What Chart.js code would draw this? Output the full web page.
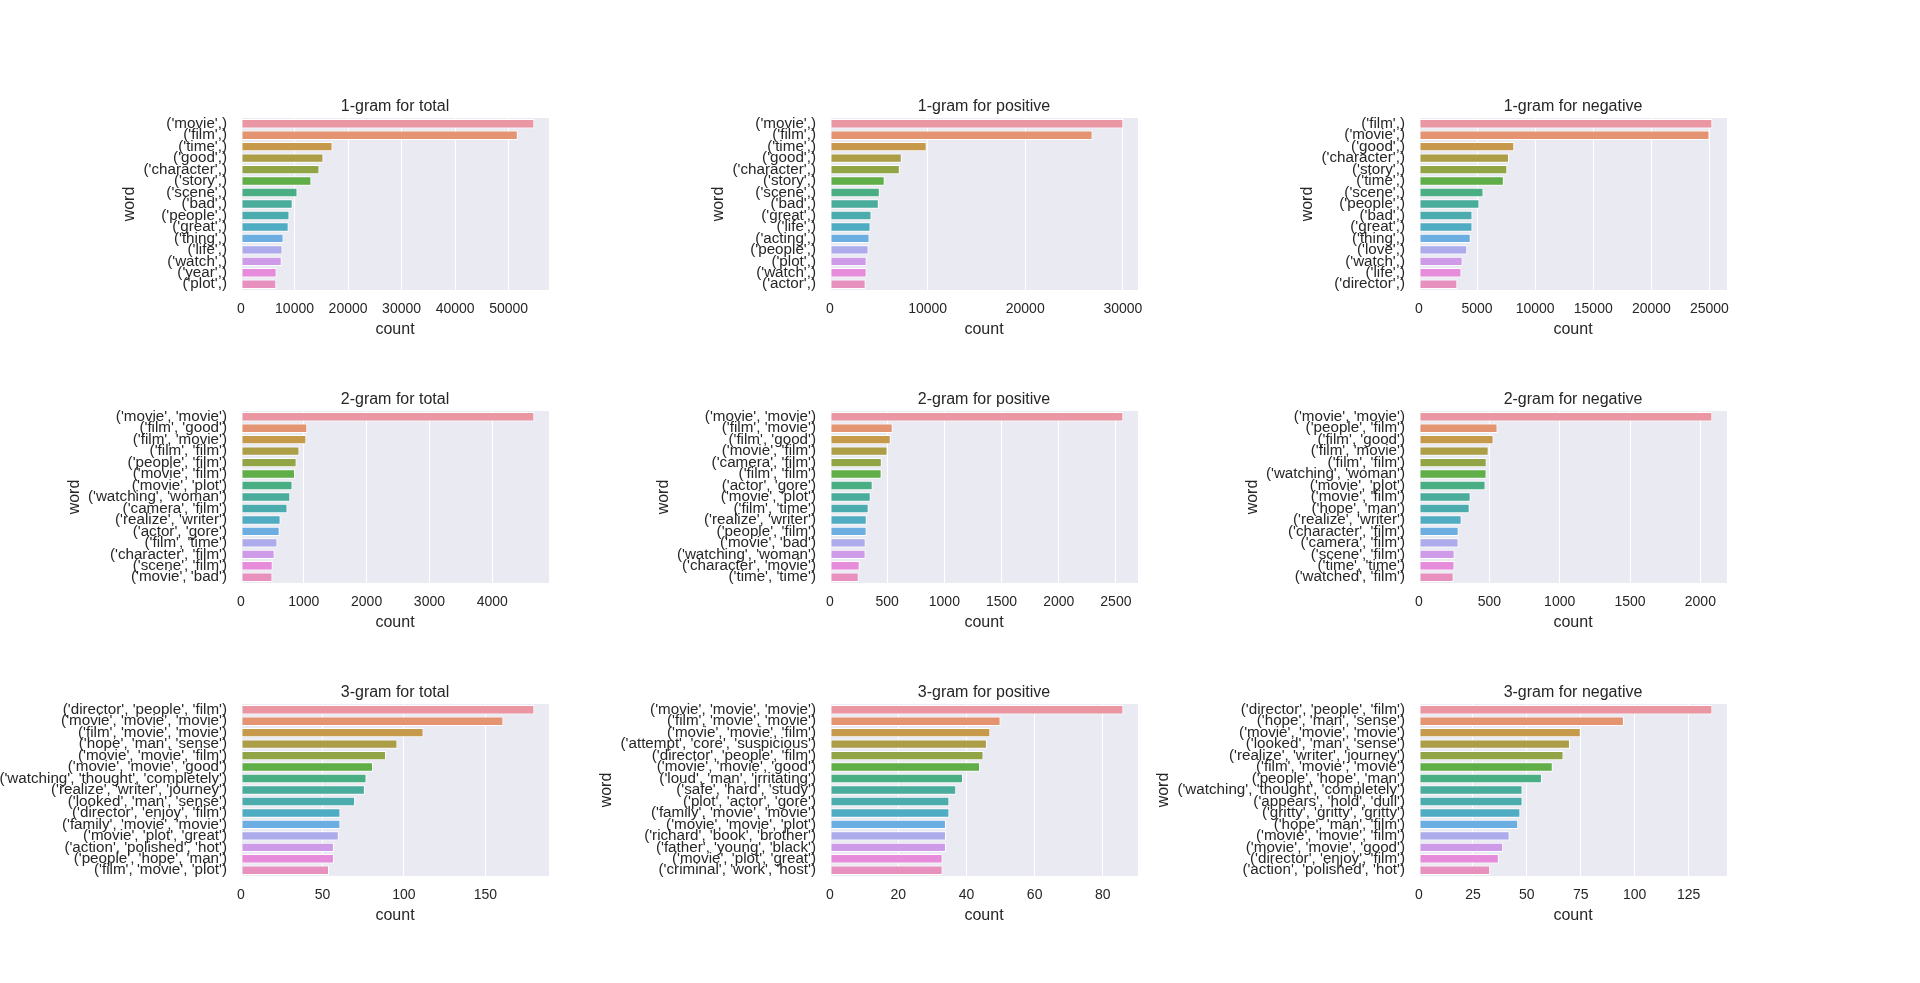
<!DOCTYPE html>
<html><head><meta charset="utf-8">
<script src="https://cdn.jsdelivr.net/npm/chart.js@4.4.1/dist/chart.umd.min.js"></script>
<style>
html,body{margin:0;padding:0;width:1920px;height:983px;overflow:hidden;background:#ffffff;}
canvas{position:absolute;}
</style></head><body>
<script>
// ---------------- DATA ----------------
const uniTotalWords = ["('movie',)","('film',)","('time',)","('good',)","('character',)","('story',)","('scene',)","('bad',)","('people',)","('great',)","('thing',)","('life',)","('watch',)","('year',)","('plot',)"];
const uniTotalCounts = [54800,51700,17100,15400,14650,13150,10550,9650,9050,8900,7950,7750,7600,6650,6600];
const uniTotalTicks = [0,10000,20000,30000,40000,50000];

const uniPosWords = ["('movie',)","('film',)","('time',)","('good',)","('character',)","('story',)","('scene',)","('bad',)","('great',)","('life',)","('acting',)","('people',)","('plot',)","('watch',)","('actor',)"];
const uniPosCounts = [30050,26900,9900,7350,7150,5600,5100,5000,4250,4150,4050,3950,3750,3750,3650];
const uniPosTicks = [0,10000,20000,30000];

const uniNegWords = ["('film',)","('movie',)","('good',)","('character',)","('story',)","('time',)","('scene',)","('people',)","('bad',)","('great',)","('thing',)","('love',)","('watch',)","('life',)","('director',)"];
const uniNegCounts = [25250,25000,8200,7750,7600,7300,5550,5200,4600,4600,4450,4150,3750,3650,3300];
const uniNegTicks = [0,5000,10000,15000,20000,25000];

const biTotalWords = ["('movie', 'movie')","('film', 'good')","('film', 'movie')","('film', 'film')","('people', 'film')","('movie', 'film')","('movie', 'plot')","('watching', 'woman')","('camera', 'film')","('realize', 'writer')","('actor', 'gore')","('film', 'time')","('character', 'film')","('scene', 'film')","('movie', 'bad')"];
const biTotalCounts = [4670,1055,1040,930,885,860,820,785,740,630,615,580,535,505,500];
const biTotalTicks = [0,1000,2000,3000,4000];

const biPosWords = ["('movie', 'movie')","('film', 'movie')","('film', 'good')","('movie', 'film')","('camera', 'film')","('film', 'film')","('actor', 'gore')","('movie', 'plot')","('film', 'time')","('realize', 'writer')","('people', 'film')","('movie', 'bad')","('watching', 'woman')","('character', 'movie')","('time', 'time')"];
const biPosCounts = [2565,548,531,503,453,451,373,356,338,321,320,312,311,259,251];
const biPosTicks = [0,500,1000,1500,2000,2500];

const biNegWords = ["('movie', 'movie')","('people', 'film')","('film', 'good')","('film', 'movie')","('film', 'film')","('watching', 'woman')","('movie', 'plot')","('movie', 'film')","('hope', 'man')","('realize', 'writer')","('character', 'film')","('camera', 'film')","('scene', 'film')","('time', 'time')","('watched', 'film')"];
const biNegCounts = [2085,558,530,495,481,480,473,367,360,303,282,281,253,252,246];
const biNegTicks = [0,500,1000,1500,2000];

const triTotalWords = ["('director', 'people', 'film')","('movie', 'movie', 'movie')","('film', 'movie', 'movie')","('hope', 'man', 'sense')","('movie', 'movie', 'film')","('movie', 'movie', 'good')","('watching', 'thought', 'completely')","('realize', 'writer', 'journey')","('looked', 'man', 'sense')","('director', 'enjoy', 'film')","('family', 'movie', 'movie')","('movie', 'plot', 'great')","('action', 'polished', 'hot')","('people', 'hope', 'man')","('film', 'movie', 'plot')"];
const triTotalCounts = [180,161,112,96,89,81,77,76,70,61,61,60,57,57,54];
const triTotalTicks = [0,50,100,150];

const triPosWords = ["('movie', 'movie', 'movie')","('film', 'movie', 'movie')","('movie', 'movie', 'film')","('attempt', 'core', 'suspicious')","('director', 'people', 'film')","('movie', 'movie', 'good')","('loud', 'man', 'irritating')","('safe', 'hard', 'study')","('plot', 'actor', 'gore')","('family', 'movie', 'movie')","('movie', 'movie', 'plot')","('richard', 'book', 'brother')","('father', 'young', 'black')","('movie', 'plot', 'great')","('criminal', 'work', 'host')"];
const triPosCounts = [86,50,47,46,45,44,39,37,35,35,34,34,34,33,33];
const triPosTicks = [0,20,40,60,80];

const triNegWords = ["('director', 'people', 'film')","('hope', 'man', 'sense')","('movie', 'movie', 'movie')","('looked', 'man', 'sense')","('realize', 'writer', 'journey')","('film', 'movie', 'movie')","('people', 'hope', 'man')","('watching', 'thought', 'completely')","('appears', 'hold', 'dull')","('gritty', 'gritty', 'gritty')","('hope', 'man', 'film')","('movie', 'movie', 'film')","('movie', 'movie', 'good')","('director', 'enjoy', 'film')","('action', 'polished', 'hot')"];
const triNegCounts = [136,95,75,70,67,62,57,48,48,47,46,42,39,37,33];
const triNegTicks = [0,25,50,75,100,125];

const panelTitles = ["1-gram for total","1-gram for positive","1-gram for negative",
                     "2-gram for total","2-gram for positive","2-gram for negative",
                     "3-gram for total","3-gram for positive","3-gram for negative"];

// ---------------- STYLE / LAYOUT ----------------
const FONT = '"Liberation Sans", Arial, sans-serif';
const TEXT = '#262626';
const YTICK_SIZE = 15.2, XTICK_SIZE = 14, LABEL_SIZE = 16, TICK_PAD = 14;
const COL_LEFT = [241, 830, 1419], PLOT_W = 308;
const ROW_TOP = [118, 411, 704], PLOT_H = 172;
const TOP_SPACE = 40, RIGHT_SPACE = 30, X_AXIS_H = 49;

Chart.defaults.font.family = FONT;
Chart.defaults.color = TEXT;

// seaborn husl palette (15 colours, l=.7), desaturated by 0.75
function huslToRgb(h, s, l) {
  const m = [[3.2406,-1.5372,-0.4986],[-0.9689,1.8758,0.0415],[0.0557,-0.2040,1.0570]];
  const refU = 0.19784, refV = 0.46834;
  const hrad = h * Math.PI / 180, sinH = Math.sin(hrad), cosH = Math.cos(hrad);
  const sub1 = Math.pow(l + 16, 3) / 1560896;
  const sub2 = sub1 > 0.008856 ? sub1 : l / 903.3;
  let result = Infinity;
  for (const [m1, m2, m3] of m) {
    const top = (0.99915*m1 + 1.05122*m2 + 1.14460*m3) * sub2;
    const rb = 0.86330*m3 - 0.17266*m2;
    const lb = 0.12949*m3 - 0.38848*m1;
    const bottom = (rb*sinH + lb*cosH) * sub2;
    for (const t of [0, 1]) {
      const c = l * (top - 1.05122*t) / (bottom + 0.17266*sinH*t);
      if (c > 0 && c < result) result = c;
    }
  }
  const C = result / 100 * s;
  const U = Math.cos(hrad) * C, V = Math.sin(hrad) * C;
  const tt = (l + 16) / 116;
  const Y = Math.pow(tt, 3) > 0.008856 ? Math.pow(tt, 3) : (116*tt - 16) / 903.3;
  const vU = U / (13*l) + refU, vV = V / (13*l) + refV;
  const X = -(9*Y*vU) / ((vU - 4)*vV - vU*vV);
  const Z = (9*Y - 15*vV*Y - vV*X) / (3*vV);
  return m.map(r => {
    const c = r[0]*X + r[1]*Y + r[2]*Z;
    const v = c <= 0.0031308 ? 12.92*c : 1.055*Math.pow(c, 1/2.4) - 0.055;
    return Math.min(1, Math.max(0, v));
  });
}
function rgbToHls(r, g, b) {
  const mx = Math.max(r,g,b), mn = Math.min(r,g,b);
  const l = (mx + mn) / 2;
  if (mx === mn) return [0, l, 0];
  const s = l <= 0.5 ? (mx-mn)/(mx+mn) : (mx-mn)/(2-mx-mn);
  const rc = (mx-r)/(mx-mn), gc = (mx-g)/(mx-mn), bc = (mx-b)/(mx-mn);
  let h;
  if (r === mx) h = bc - gc; else if (g === mx) h = 2 + rc - bc; else h = 4 + gc - rc;
  h = ((h / 6) % 1 + 1) % 1;
  return [h, l, s];
}
function hlsToRgb(h, l, s) {
  if (s === 0) return [l, l, l];
  const m2 = l <= 0.5 ? l*(1+s) : l + s - l*s;
  const m1 = 2*l - m2;
  const v = (hue) => {
    hue = ((hue % 1) + 1) % 1;
    if (hue < 1/6) return m1 + (m2-m1)*hue*6;
    if (hue < 0.5) return m2;
    if (hue < 2/3) return m1 + (m2-m1)*(2/3-hue)*6;
    return m1;
  };
  return [v(h+1/3), v(h), v(h-1/3)];
}
function seabornColors(n) {
  const out = [];
  for (let i = 0; i < n; i++) {
    const h = (i / n + 0.01) % 1;
    const rgb = huslToRgb(h * 359, 0.9 * 99, 0.7 * 99);
    const [hh, ll, ss] = rgbToHls(...rgb);
    const d = hlsToRgb(hh, ll, ss * 0.75);
    out.push('rgb(' + d.map(x => Math.round(x*255)).join(',') + ')');
  }
  return out;
}
const COLORS = seabornColors(15);

const bgPlugin = {
  id: 'bg',
  beforeDraw(chart) {
    const {ctx, chartArea: a} = chart;
    ctx.save(); ctx.fillStyle = '#EAEAF2';
    ctx.fillRect(a.left, a.top, a.right - a.left, a.bottom - a.top);
    ctx.restore();
  },
  afterDraw(chart) {
    const {ctx, chartArea: a} = chart;
    ctx.save();
    ctx.fillStyle = TEXT;
    ctx.font = LABEL_SIZE + 'px ' + FONT;
    ctx.textAlign = 'center'; ctx.textBaseline = 'alphabetic';
    ctx.fillText(chart.options.plugins.panelTitle, (a.left + a.right) / 2, a.top - 7);
    ctx.restore();
  }
};

const panels = [
  [uniTotalWords, uniTotalCounts, uniTotalTicks],
  [uniPosWords, uniPosCounts, uniPosTicks],
  [uniNegWords, uniNegCounts, uniNegTicks],
  [biTotalWords, biTotalCounts, biTotalTicks],
  [biPosWords, biPosCounts, biPosTicks],
  [biNegWords, biNegCounts, biNegTicks],
  [triTotalWords, triTotalCounts, triTotalTicks],
  [triPosWords, triPosCounts, triPosTicks],
  [triNegWords, triNegCounts, triNegTicks]
];

const mctx = document.createElement('canvas').getContext('2d');
mctx.font = YTICK_SIZE + 'px ' + FONT;

panels.forEach(([words, counts, ticks], i) => {
  const row = Math.floor(i / 3), col = i % 3;
  const plotLeft = COL_LEFT[col], plotTop = ROW_TOP[row];
  const maxW = Math.max(...words.map(w => mctx.measureText(w).width));
  const labelsLeft = plotLeft - TICK_PAD - maxW;
  const canvasLeft = Math.round(labelsLeft - 13.5 - 9.6);
  const yW = plotLeft - canvasLeft;
  const cw = yW + PLOT_W + RIGHT_SPACE;
  const chh = TOP_SPACE + PLOT_H + X_AXIS_H;

  const cv = document.createElement('canvas');
  cv.width = cw; cv.height = chh;
  cv.style.left = canvasLeft + 'px';
  cv.style.top = (plotTop - TOP_SPACE) + 'px';
  cv.style.width = cw + 'px'; cv.style.height = chh + 'px';
  document.body.appendChild(cv);

  const xmax = Math.max(...counts) * 1.05;

  new Chart(cv, {
    type: 'bar',
    data: {
      labels: words,
      datasets: [{
        data: counts,
        backgroundColor: COLORS,
        borderColor: '#ffffff',
        borderWidth: 1,
        borderSkipped: false,
        barPercentage: 0.82,
        categoryPercentage: 1.0
      }]
    },
    options: {
      indexAxis: 'y',
      responsive: false,
      maintainAspectRatio: false,
      animation: false,
      devicePixelRatio: 1,
      layout: {padding: {top: TOP_SPACE, right: RIGHT_SPACE, left: 0, bottom: 0}},
      plugins: {
        legend: {display: false},
        tooltip: {enabled: false},
        panelTitle: panelTitles[i]
      },
      scales: {
        x: {
          type: 'linear',
          min: 0, max: xmax,
          afterBuildTicks: (s) => { s.ticks = ticks.map(v => ({value: v})); },
          afterFit: (s) => { s.height = X_AXIS_H; },
          grid: {color: '#ffffff', lineWidth: 1, drawTicks: false},
          border: {display: false},
          ticks: {
            autoSkip: false, maxRotation: 0, padding: 10.5,
            font: {size: XTICK_SIZE}, color: TEXT,
            callback: (v) => String(v)
          },
          title: {display: true, text: 'count', font: {size: LABEL_SIZE}, color: TEXT, padding: 0}
        },
        y: {
          type: 'category',
          afterFit: (s) => { s.width = yW; },
          grid: {display: false, drawTicks: false},
          border: {display: false},
          ticks: {autoSkip: false, padding: TICK_PAD, font: {size: YTICK_SIZE}, color: TEXT},
          title: {display: true, text: 'word', font: {size: LABEL_SIZE}, color: TEXT, padding: 0}
        }
      }
    },
    plugins: [bgPlugin]
  });
});
</script>
</body></html>
